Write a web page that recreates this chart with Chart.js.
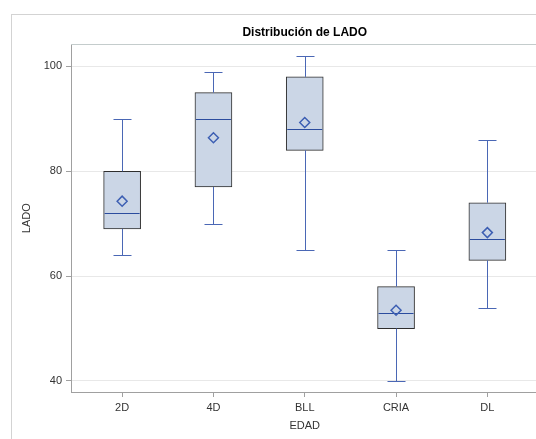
<!DOCTYPE html>
<html>
<head>
<meta charset="utf-8">
<script src="https://cdn.jsdelivr.net/npm/chart.js@4"></script>
<style>
  html, body { margin: 0; padding: 0; background: #fff; overflow: hidden; }
  #frame { position: absolute; left: 11px; top: 14px; width: 600px; height: 500px;
           border-left: 1px solid #d3d3d3; border-top: 1px solid #d3d3d3; }
  #wrap { position: absolute; left: 0; top: 0; width: 545px; height: 439px; }
</style>
</head>
<body>
<div id="frame"></div>
<div id="wrap"><canvas id="boxChart"></canvas></div>
<script>
// datos
const categories = ['2D', '4D', 'BLL', 'CRIA', 'DL'];
const whiskerLow = [64, 70, 65, 40, 54];
const q1 = [69, 77, 84, 50, 63];
const median = [72, 90, 88, 53, 67];
const q3 = [80, 95, 98, 58, 74];
const whiskerHigh = [90, 99, 102, 65, 86];
const means = [74.3, 86.4, 89.3, 53.5, 68.3];
const yTicks = [40, 60, 80, 100];

const FONT = "'Liberation Sans', Arial, sans-serif";
const capWidth = 18;

// bigotes y mediana, dibujados con las escalas del grafico
const boxPlugin = {
    id: 'boxExtras',
    afterDatasetDraw(chart, args) {
        if (args.meta.type !== 'bar') return;
        const ctx = chart.ctx;
        const x = chart.scales.x;
        const y = chart.scales.y;
        ctx.save();
        args.meta.data.forEach(function (bar, i) {
            const cx = Math.round(x.getPixelForValue(i)) + 0.5;
            const half = bar.width / 2;
            const yLo = Math.round(y.getPixelForValue(whiskerLow[i])) + 0.5;
            const yHi = Math.round(y.getPixelForValue(whiskerHigh[i])) + 0.5;
            const yQ1 = y.getPixelForValue(q1[i]);
            const yQ3 = y.getPixelForValue(q3[i]);
            const yMed = Math.round(y.getPixelForValue(median[i])) + 0.5;

            ctx.strokeStyle = '#4a67b5';
            ctx.lineWidth = 1;
            ctx.beginPath();
            ctx.moveTo(cx, yQ3); ctx.lineTo(cx, yHi);
            ctx.moveTo(cx - capWidth / 2, yHi); ctx.lineTo(cx + capWidth / 2, yHi);
            ctx.moveTo(cx, yQ1); ctx.lineTo(cx, yLo);
            ctx.moveTo(cx - capWidth / 2, yLo); ctx.lineTo(cx + capWidth / 2, yLo);
            ctx.stroke();

            ctx.strokeStyle = '#2b4c9e';
            ctx.beginPath();
            ctx.moveTo(bar.x - half + 1, yMed); ctx.lineTo(bar.x + half - 1, yMed);
            ctx.stroke();
        });
        ctx.restore();
    },
    afterDraw(chart) {
        // marco del area de trazado
        const a = chart.chartArea;
        const ctx = chart.ctx;
        ctx.save();
        ctx.strokeStyle = '#c4cccc';
        ctx.lineWidth = 1;
        ctx.beginPath();
        ctx.moveTo(a.left, Math.round(a.top) + 0.5);
        ctx.lineTo(a.right, Math.round(a.top) + 0.5);
        ctx.lineTo(a.right - 0.5, a.bottom);
        ctx.stroke();
        ctx.restore();
    }
};

new Chart(document.getElementById('boxChart'), {
    type: 'bar',
    data: {
        datasets: [
            {
                type: 'bar',
                data: categories.map(function (c, i) { return { x: i, y: [q1[i], q3[i]] }; }),
                backgroundColor: '#cbd6e6',
                borderColor: '#2e2e2e',
                borderWidth: 1,
                borderSkipped: false,
                barThickness: 37,
                order: 2
            },
            {
                type: 'line',
                data: categories.map(function (c, i) { return { x: i, y: means[i] }; }),
                showLine: false,
                pointStyle: 'rectRot',
                pointRadius: 5,
                pointBorderWidth: 1.5,
                pointBorderColor: '#3d5fb3',
                pointBackgroundColor: 'rgba(0,0,0,0)',
                order: 1
            }
        ]
    },
    options: {
        responsive: true,
        maintainAspectRatio: false,
        animation: false,
        layout: { padding: { top: 0, left: 0, right: 2, bottom: 0 } },
        plugins: {
            legend: { display: false },
            tooltip: { enabled: false },
            title: {
                display: true,
                text: 'Distribución de LADO',
                fullSize: false,
                color: '#000',
                font: { family: FONT, size: 12, weight: 'bold' },
                padding: { top: 25, bottom: 5 }
            }
        },
        scales: {
            x: {
                type: 'linear',
                offset: false,
                min: -0.56,
                max: 4.56,
                afterBuildTicks: function (scale) {
                    scale.ticks = categories.map(function (c, i) { return { value: i }; });
                },
                afterFit: function (scale) { scale.height = 47; },
                ticks: {
                    autoSkip: false,
                    maxRotation: 0,
                    padding: 4,
                    color: '#333',
                    font: { family: FONT, size: 11 },
                    callback: function (v) { return categories[v]; }
                },
                grid: { offset: false, drawOnChartArea: false, tickLength: 5, tickColor: '#a0a0a0' },
                border: { color: '#a0a0a0' },
                title: {
                    display: true,
                    text: 'EDAD',
                    color: '#333',
                    font: { family: FONT, size: 11 },
                    padding: { top: 0, bottom: 6 }
                }
            },
            y: {
                min: 37.9,
                max: 104.2,
                afterBuildTicks: function (scale) {
                    scale.ticks = yTicks.map(function (v) { return { value: v }; });
                },
                afterFit: function (scale) { scale.width = 71; },
                ticks: {
                    padding: 4,
                    color: '#333',
                    font: { family: FONT, size: 11 }
                },
                grid: { color: '#e8e8e8', tickLength: 5, tickColor: '#a0a0a0' },
                border: { color: '#a0a0a0' },
                title: {
                    display: true,
                    text: 'LADO',
                    color: '#333',
                    font: { family: FONT, size: 11 },
                    padding: { top: 20, bottom: 0 }
                }
            }
        }
    },
    plugins: [boxPlugin]
});
</script>
</body>
</html>
